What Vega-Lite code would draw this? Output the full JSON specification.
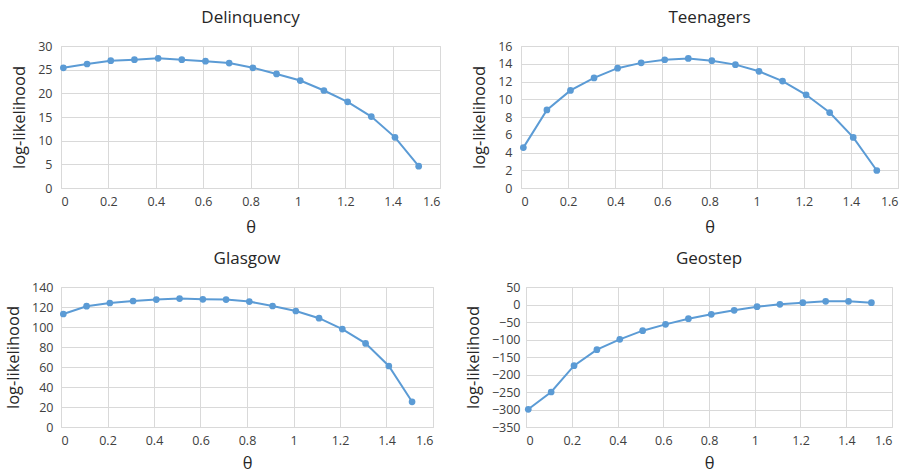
{
  "$schema": "https://vega.github.io/schema/vega-lite/v6.json",
  "background": "white",
  "padding": {"left": 5, "top": 8, "right": 4, "bottom": 1},
  "config": {
    "font": "Open Sans",
    "view": {"stroke": "#d9d9d9", "strokeWidth": 1},
    "concat": {"spacing": 12},
    "title": {"fontSize": 17, "fontWeight": "normal", "color": "#262626", "font": "Open Sans", "offset": 13},
    "axis": {
      "domain": false, "ticks": false, "gridColor": "#d9d9d9", "gridWidth": 1,
      "labelFontSize": 12.5, "labelColor": "#404040", "labelFont": "Open Sans",
      "titleFontSize": 16.5, "titleFontWeight": "normal", "titleColor": "#262626", "titleFont": "Open Sans"
    },
    "line": {"color": "#5b9bd5", "strokeWidth": 2},
    "point": {"color": "#5b9bd5", "filled": true, "size": 45, "opacity": 1}
  },
  "datasets": {
    "d": [
      {"panel": "Delinquency", "theta": 0.01, "ll": 25.4},
      {"panel": "Delinquency", "theta": 0.11, "ll": 26.2},
      {"panel": "Delinquency", "theta": 0.21, "ll": 26.9},
      {"panel": "Delinquency", "theta": 0.31, "ll": 27.1},
      {"panel": "Delinquency", "theta": 0.41, "ll": 27.4},
      {"panel": "Delinquency", "theta": 0.51, "ll": 27.1},
      {"panel": "Delinquency", "theta": 0.61, "ll": 26.8},
      {"panel": "Delinquency", "theta": 0.71, "ll": 26.4},
      {"panel": "Delinquency", "theta": 0.81, "ll": 25.4},
      {"panel": "Delinquency", "theta": 0.91, "ll": 24.1},
      {"panel": "Delinquency", "theta": 1.01, "ll": 22.7},
      {"panel": "Delinquency", "theta": 1.11, "ll": 20.6},
      {"panel": "Delinquency", "theta": 1.21, "ll": 18.2},
      {"panel": "Delinquency", "theta": 1.31, "ll": 15.1},
      {"panel": "Delinquency", "theta": 1.41, "ll": 10.7},
      {"panel": "Delinquency", "theta": 1.51, "ll": 4.6},
      {"panel": "Teenagers", "theta": 0.01, "ll": 4.55},
      {"panel": "Teenagers", "theta": 0.11, "ll": 8.8},
      {"panel": "Teenagers", "theta": 0.21, "ll": 11.0},
      {"panel": "Teenagers", "theta": 0.31, "ll": 12.4},
      {"panel": "Teenagers", "theta": 0.41, "ll": 13.5},
      {"panel": "Teenagers", "theta": 0.51, "ll": 14.1},
      {"panel": "Teenagers", "theta": 0.61, "ll": 14.45},
      {"panel": "Teenagers", "theta": 0.71, "ll": 14.6},
      {"panel": "Teenagers", "theta": 0.81, "ll": 14.35},
      {"panel": "Teenagers", "theta": 0.91, "ll": 13.9},
      {"panel": "Teenagers", "theta": 1.01, "ll": 13.15},
      {"panel": "Teenagers", "theta": 1.11, "ll": 12.05},
      {"panel": "Teenagers", "theta": 1.21, "ll": 10.5},
      {"panel": "Teenagers", "theta": 1.31, "ll": 8.5},
      {"panel": "Teenagers", "theta": 1.41, "ll": 5.7},
      {"panel": "Teenagers", "theta": 1.51, "ll": 1.97},
      {"panel": "Glasgow", "theta": 0.01, "ll": 113},
      {"panel": "Glasgow", "theta": 0.11, "ll": 120.8},
      {"panel": "Glasgow", "theta": 0.21, "ll": 124},
      {"panel": "Glasgow", "theta": 0.31, "ll": 126},
      {"panel": "Glasgow", "theta": 0.41, "ll": 127.4},
      {"panel": "Glasgow", "theta": 0.51, "ll": 128.4},
      {"panel": "Glasgow", "theta": 0.61, "ll": 127.7},
      {"panel": "Glasgow", "theta": 0.71, "ll": 127.4},
      {"panel": "Glasgow", "theta": 0.81, "ll": 125.4},
      {"panel": "Glasgow", "theta": 0.91, "ll": 121},
      {"panel": "Glasgow", "theta": 1.01, "ll": 116},
      {"panel": "Glasgow", "theta": 1.11, "ll": 108.8},
      {"panel": "Glasgow", "theta": 1.21, "ll": 97.9},
      {"panel": "Glasgow", "theta": 1.31, "ll": 83.6},
      {"panel": "Glasgow", "theta": 1.41, "ll": 61},
      {"panel": "Glasgow", "theta": 1.51, "ll": 25.2},
      {"panel": "Geostep", "theta": 0.01, "ll": -299.5},
      {"panel": "Geostep", "theta": 0.11, "ll": -250},
      {"panel": "Geostep", "theta": 0.21, "ll": -174.8},
      {"panel": "Geostep", "theta": 0.31, "ll": -129},
      {"panel": "Geostep", "theta": 0.41, "ll": -99.5},
      {"panel": "Geostep", "theta": 0.51, "ll": -74.8},
      {"panel": "Geostep", "theta": 0.61, "ll": -56.7},
      {"panel": "Geostep", "theta": 0.71, "ll": -40.5},
      {"panel": "Geostep", "theta": 0.81, "ll": -28},
      {"panel": "Geostep", "theta": 0.91, "ll": -16.7},
      {"panel": "Geostep", "theta": 1.01, "ll": -6.2},
      {"panel": "Geostep", "theta": 1.11, "ll": 0.5},
      {"panel": "Geostep", "theta": 1.21, "ll": 5.2},
      {"panel": "Geostep", "theta": 1.31, "ll": 9},
      {"panel": "Geostep", "theta": 1.41, "ll": 9},
      {"panel": "Geostep", "theta": 1.51, "ll": 5.2}
    ]
  },
  "data": {"name": "d"},
  "vconcat": [
    {
      "hconcat": [
        {
          "title": "Delinquency",
          "width": 379, "height": 142,
          "transform": [{"filter": "datum.panel === 'Delinquency'"}],
          "mark": {"type": "line", "point": true},
          "encoding": {
            "x": {"field": "theta", "type": "quantitative", "scale": {"domain": [0, 1.6], "nice": false}, "axis": {"values": [0,0.2,0.4,0.6,0.8,1,1.2,1.4,1.6], "labelExpr": "'' + datum.value", "title": "θ", "titlePadding": 12, "labelPadding": 7}},
            "y": {"field": "ll", "type": "quantitative", "scale": {"domain": [0, 30], "nice": false}, "axis": {"values": [0,5,10,15,20,25,30], "title": "log-likelihood", "titlePadding": 10, "labelPadding": 9}}
          }
        },
        {
          "title": "Teenagers",
          "width": 377, "height": 142,
          "transform": [{"filter": "datum.panel === 'Teenagers'"}],
          "mark": {"type": "line", "point": true},
          "encoding": {
            "x": {"field": "theta", "type": "quantitative", "scale": {"domain": [0, 1.6], "nice": false}, "axis": {"values": [0,0.2,0.4,0.6,0.8,1,1.2,1.4,1.6], "labelExpr": "'' + datum.value", "title": "θ", "titlePadding": 12, "labelPadding": 7}},
            "y": {"field": "ll", "type": "quantitative", "scale": {"domain": [0, 16], "nice": false}, "axis": {"values": [0,2,4,6,8,10,12,14,16], "title": "log-likelihood", "titlePadding": 10, "labelPadding": 9}}
          }
        }
      ],
      "spacing": 30
    },
    {
      "hconcat": [
        {
          "title": "Glasgow",
          "width": 372, "height": 140,
          "transform": [{"filter": "datum.panel === 'Glasgow'"}],
          "mark": {"type": "line", "point": true},
          "encoding": {
            "x": {"field": "theta", "type": "quantitative", "scale": {"domain": [0, 1.6], "nice": false}, "axis": {"values": [0,0.2,0.4,0.6,0.8,1,1.2,1.4,1.6], "labelExpr": "'' + datum.value", "title": "θ", "titlePadding": 9, "labelPadding": 7}},
            "y": {"field": "ll", "type": "quantitative", "scale": {"domain": [0, 140], "nice": false}, "axis": {"values": [0,20,40,60,80,100,120,140], "title": "log-likelihood", "titlePadding": 10, "labelPadding": 8}}
          }
        },
        {
          "title": "Geostep",
          "width": 366, "height": 140,
          "transform": [{"filter": "datum.panel === 'Geostep'"}],
          "mark": {"type": "line", "point": true},
          "encoding": {
            "x": {"field": "theta", "type": "quantitative", "scale": {"domain": [0, 1.6], "nice": false}, "axis": {"values": [0,0.2,0.4,0.6,0.8,1,1.2,1.4,1.6], "labelExpr": "'' + datum.value", "title": "θ", "titlePadding": 9, "labelPadding": 7}},
            "y": {"field": "ll", "type": "quantitative", "scale": {"domain": [-350, 50], "nice": false}, "axis": {"values": [-350,-300,-250,-200,-150,-100,-50,0,50], "title": "log-likelihood", "titlePadding": 10, "labelPadding": 6}}
          }
        }
      ],
      "spacing": 30
    }
  ]
}
